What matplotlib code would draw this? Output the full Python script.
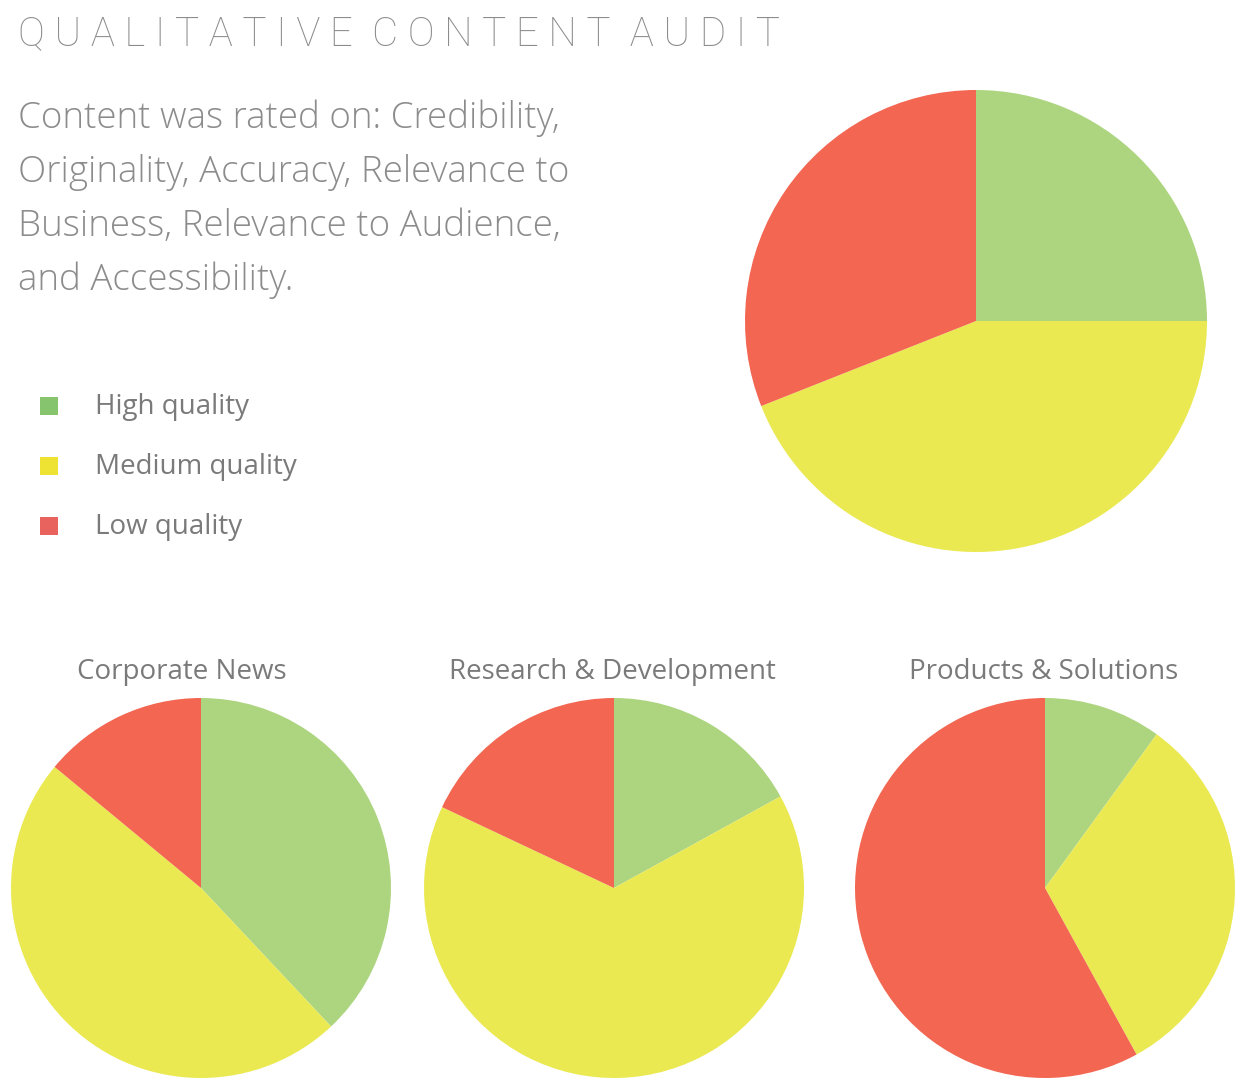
import matplotlib.pyplot as plt
from matplotlib.patches import Rectangle

W, H = 1246, 1092

labels = ['High quality', 'Medium quality', 'Low quality']
pie_colors = ['#add580', '#eae952', '#f26652']
legend_colors = ['#86c46e', '#eee232', '#e8625e']

overall = [25, 44, 31]
sections = ['Corporate News', 'Research & Development', 'Products & Solutions']
section_values = [
    [38, 48, 14],
    [17, 65, 18],
    [10, 32, 58],
]

title = 'QUALITATIVE CONTENT AUDIT'
intro = ['Content was rated on: Credibility,',
         'Originality, Accuracy, Relevance to',
         'Business, Relevance to Audience,',
         'and Accessibility.']

plt.rcParams['font.family'] = ['Open Sans', 'DejaVu Sans']


def fx(x):
    return x / W


def fy(y):
    return 1 - y / H


def draw_pie(vals, cx, cy, r):
    ax = fig.add_axes([fx(cx - r), fy(cy + r), 2 * r / W, 2 * r / H])
    ax.pie(vals, colors=pie_colors, startangle=90, counterclock=False,
           radius=1, wedgeprops=dict(linewidth=0))
    ax.set_xlim(-1, 1)
    ax.set_ylim(-1, 1)
    ax.set_aspect('equal')
    ax.axis('off')
    return ax


fig = plt.figure(figsize=(W / 100, H / 100), dpi=100)

# title with wide tracking
spaced = '  '.join(' '.join(word) for word in title.split())
fig.text(fx(18), fy(45), spaced, fontsize=29, color='#8c8c8c',
         family=['Roboto', 'DejaVu Sans'], fontweight='light',
         va='baseline', ha='left')

for i, line in enumerate(intro):
    fig.text(fx(18), fy(128 + i * 54), line, fontsize=26.5, color='#8c8c8c',
             fontweight='light', va='baseline', ha='left')

# legend
for i, (lab, col) in enumerate(zip(labels, legend_colors)):
    y = 406 + i * 60
    fig.add_artist(Rectangle((fx(40), fy(y + 9)), 18 / W, 18 / H,
                             transform=fig.transFigure, color=col, lw=0))
    fig.text(fx(95), fy(y + 8), lab, fontsize=20, color='#7a7a7a',
             va='baseline', ha='left')

# overall pie
draw_pie(overall, 976, 321, 231)

# section pies
centers = [201, 614, 1045]
label_x = [182, 612, 1044]
for cx, lx, name, vals in zip(centers, label_x, sections, section_values):
    draw_pie(vals, cx, 888, 190)
    fig.text(fx(lx), fy(679), name, fontsize=20, color='#7a7a7a',
             va='baseline', ha='center')

fig.savefig('out.png', dpi=100, facecolor='white')
